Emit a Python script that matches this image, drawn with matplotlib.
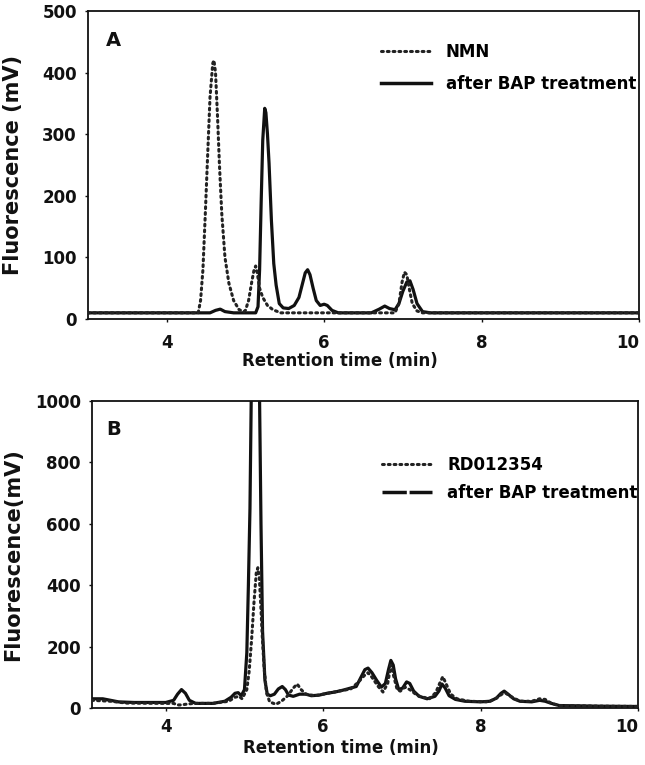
import matplotlib
matplotlib.use('Agg')
import matplotlib.pyplot as plt
from matplotlib.lines import Line2D

# panel A: NMN standard (dotted) and after BAP treatment (solid)
a_nmn_time = [3.0, 4.40, 4.43, 4.46, 4.49, 4.515, 4.55, 4.585, 4.60, 4.62, 4.645, 4.67, 4.70,
              4.74, 4.79, 4.85, 4.92, 4.98, 5.00, 5.04, 5.08, 5.11, 5.13, 5.15, 5.18, 5.22,
              5.28, 5.35, 5.45, 6.90, 6.95, 6.99, 7.02, 7.05, 7.08, 7.12, 7.18, 7.25, 10.0]
a_nmn = [10, 10, 30, 80, 170, 250, 360, 415, 420, 400, 330, 250, 170,
         100, 58, 30, 15, 12, 14, 30, 60, 80, 86, 75, 50, 35,
         22, 15, 10, 10, 25, 60, 76, 72, 50, 25, 13, 10, 10]

a_bap_time = [3.0, 4.55, 4.62, 4.68, 4.74, 4.85, 5.13, 5.16, 5.18, 5.20, 5.22, 5.245, 5.26,
              5.28, 5.30, 5.33, 5.36, 5.39, 5.43, 5.48, 5.55, 5.62, 5.68, 5.72, 5.76, 5.79,
              5.82, 5.86, 5.90, 5.95, 6.00, 6.04, 6.10, 6.18, 6.60, 6.70, 6.77, 6.83, 6.90,
              6.95, 7.00, 7.05, 7.09, 7.13, 7.18, 7.25, 7.35, 10.0]
a_bap = [10, 10, 14, 16, 12, 10, 10, 20, 80, 190, 290, 342, 335,
         300, 253, 160, 90, 55, 25, 18, 17, 22, 35, 55, 75, 80,
         72, 50, 30, 22, 24, 22, 14, 10, 10, 16, 21, 17, 15,
         25, 45, 60, 62, 48, 25, 12, 10, 10]

# panel B: RD012354 (dotted) and after BAP treatment (solid)
b_rd_time = [3.06, 3.3, 3.5, 4.0, 4.1, 4.15, 4.2, 4.25, 4.35, 4.6, 4.8, 4.88, 4.93, 4.97,
             5.03, 5.06, 5.09, 5.12, 5.15, 5.17, 5.19, 5.21, 5.225, 5.25, 5.28, 5.32, 5.4,
             5.47, 5.55, 5.62, 5.67, 5.72, 5.78, 5.9, 6.0, 6.2, 6.35, 6.45, 6.52, 6.57, 6.62,
             6.7, 6.76, 6.82, 6.86, 6.9, 6.94, 6.98, 7.04, 7.1, 7.2, 7.35, 7.43, 7.48, 7.52,
             7.56, 7.62, 7.7, 7.85, 8.1, 8.2, 8.27, 8.32, 8.38, 8.5, 8.65, 8.75, 8.82, 8.9,
             9.0, 9.5, 10.0]
b_rd = [25, 22, 16, 15, 15, 10, 10, 12, 15, 15, 22, 35, 38, 30,
        60, 120, 220, 340, 440, 457, 420, 320, 240, 130, 50, 20, 12,
        22, 40, 65, 78, 60, 45, 40, 45, 55, 62, 85, 105, 115, 100,
        70, 52, 80, 140, 100, 60, 55, 68, 60, 40, 30, 50, 80, 102,
        80, 45, 30, 22, 20, 32, 45, 48, 38, 22, 22, 30, 28, 15,
        8, 6, 5]

b_bap_time = [3.06, 3.2, 3.3, 3.4, 3.6, 4.0, 4.1, 4.15, 4.2, 4.25, 4.3, 4.38, 4.6, 4.75,
              4.83, 4.88, 4.92, 4.96, 5.0, 5.03, 5.05, 5.07, 5.09, 5.14, 5.19, 5.21, 5.23,
              5.26, 5.29, 5.33, 5.38, 5.43, 5.48, 5.52, 5.56, 5.62, 5.7, 5.78, 5.85, 5.95,
              6.05, 6.15, 6.25, 6.35, 6.42, 6.48, 6.53, 6.57, 6.62, 6.68, 6.74, 6.79, 6.83,
              6.86, 6.89, 6.92, 6.96, 7.01, 7.06, 7.1, 7.15, 7.22, 7.32, 7.42, 7.47, 7.51,
              7.55, 7.6, 7.68, 7.8, 8.0, 8.12, 8.2, 8.26, 8.3, 8.35, 8.42, 8.5, 8.65, 8.75,
              8.82, 8.9, 9.0, 9.5, 10.0]
b_bap = [30, 30, 25, 20, 18, 18, 25, 45, 60, 48, 25, 15, 15, 22,
         35, 48, 50, 40, 60, 180, 400, 650, 1100, 1600, 1050, 600, 250,
         90, 45, 40, 45, 62, 70, 60, 42, 38, 45, 45, 40, 42,
         48, 52, 58, 65, 70, 100, 125, 130, 115, 90, 68, 80, 125,
         155, 140, 95, 60, 65, 85, 80, 55, 38, 30, 38, 55, 78,
         65, 40, 28, 22, 20, 22, 32, 48, 55, 45, 30, 22, 20, 25,
         22, 15, 8, 6, 5]

X_TICKS = [4, 6, 8, 10]
A_YTICKS = [0, 100, 200, 300, 400, 500]
B_YTICKS = [0, 200, 400, 600, 800, 1000]

W, H = 645, 765
plt.rcParams['font.family'] = 'DejaVu Sans'
plt.rcParams['font.weight'] = 'bold'
INK = '#111111'
DOT = (0, (0.6, 1.3))

fig = plt.figure(figsize=(W / 100, H / 100), dpi=100)


def make_axes(left, top, right, bottom):
    return fig.add_axes([left / W, 1 - bottom / H, (right - left) / W, (bottom - top) / H])


def style(ax, yticks, ymax, xmin, xpad):
    ax.set_xlim(xmin, 10)
    ax.set_ylim(0, ymax)
    ax.set_xticks(X_TICKS)
    ax.set_yticks(yticks)
    ax.tick_params(direction='out', length=2, width=1, colors=INK, labelsize=12)
    ax.tick_params(axis='x', pad=xpad)
    ax.tick_params(axis='y', pad=6)
    for lab in ax.get_xticklabels() + ax.get_yticklabels():
        lab.set_fontweight('bold')
    ax.get_xticklabels()[-1].set_horizontalalignment('right')
    for sp in ax.spines.values():
        sp.set_linewidth(1.3)
        sp.set_color(INK)


# ---- panel A
ax1 = make_axes(88, 11, 639, 319)
ax1.plot(a_bap_time, a_bap, color=INK, lw=2.3, solid_joinstyle='round', zorder=2)
ax1.plot(a_nmn_time, a_nmn, color='#222222', lw=2.2, linestyle=DOT,
         dash_capstyle='round', zorder=3)
style(ax1, A_YTICKS, 500, 3, 8.5)
ax1.set_xlabel('Retention time (min)', fontsize=12, fontweight='bold', color=INK)
ax1.xaxis.set_label_coords(0.458, -0.106)
ax1.set_ylabel('Fluorescence (mV)', fontsize=15, fontweight='bold', color=INK)
ax1.yaxis.set_label_coords(-0.118, 0.5)
ax1.text(0.033, 0.903, 'A', transform=ax1.transAxes, fontsize=14, fontweight='bold',
         va='center', ha='left', color=INK)
h1 = [Line2D([], [], color='#222222', lw=2.2, linestyle=DOT, dash_capstyle='round'),
      Line2D([], [], color=INK, lw=2.5)]
ax1.legend(h1, ['NMN', 'after BAP treatment'], loc='upper left',
           bbox_to_anchor=(0.516, 0.923), frameon=False, borderpad=0,
           handlelength=3.0, handletextpad=0.9, labelspacing=0.85,
           prop={'weight': 'bold', 'size': 12})

# ---- panel B
ax2 = make_axes(92, 401, 638, 708)
ax2.plot(b_bap_time, b_bap, color=INK, lw=2.3, solid_joinstyle='round', zorder=2)
ax2.plot(b_rd_time, b_rd, color='#222222', lw=2.2, linestyle=DOT,
         dash_capstyle='round', zorder=3)
style(ax2, B_YTICKS, 1000, 3.063, 5.5)
ax2.set_xlabel('Retention time (min)', fontsize=12, fontweight='bold', color=INK)
ax2.xaxis.set_label_coords(0.456, -0.1)
ax2.set_ylabel('Fluorescence(mV)', fontsize=15, fontweight='bold', color=INK)
ax2.yaxis.set_label_coords(-0.126, 0.5)
ax2.text(0.027, 0.906, 'B', transform=ax2.transAxes, fontsize=14, fontweight='bold',
         va='center', ha='left', color=INK)
h2 = [Line2D([], [], color='#222222', lw=2.2, linestyle=DOT, dash_capstyle='round'),
      Line2D([], [], color=INK, lw=2.5, linestyle=(0, (7, 0.8)))]
ax2.legend(h2, ['RD012354', 'after BAP treatment'], loc='upper left',
           bbox_to_anchor=(0.516, 0.848), frameon=False, borderpad=0,
           handlelength=3.0, handletextpad=0.9, labelspacing=0.6,
           prop={'weight': 'bold', 'size': 12})

fig.savefig('out.png', dpi=100)
plt.close(fig)
